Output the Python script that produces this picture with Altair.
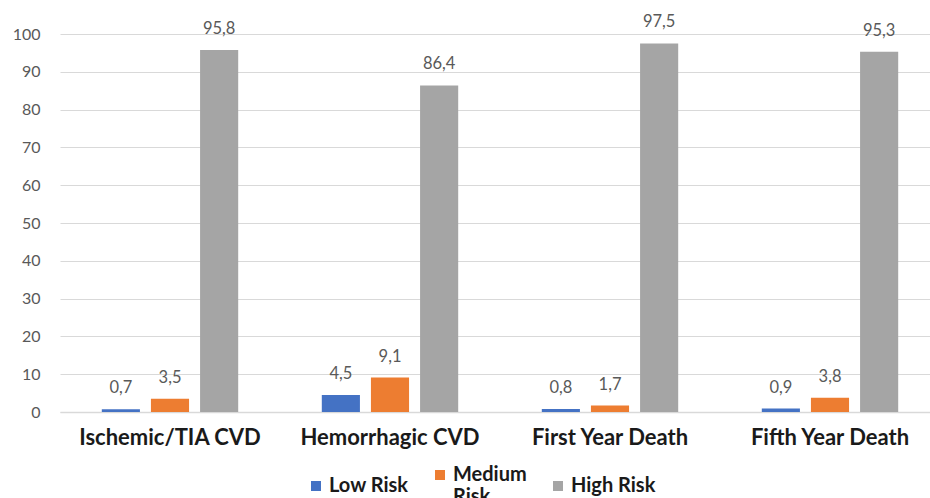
import altair as alt
import pandas as pd

# Risk distribution per outcome (percent)
categories = ["Ischemic/TIA CVD", "Hemorrhagic CVD", "First Year Death", "Fifth Year Death"]
series = ["Low Risk", "Medium Risk", "High Risk"]
low_risk = [0.7, 4.5, 0.8, 0.9]
medium_risk = [3.5, 9.1, 1.7, 3.8]
high_risk = [95.8, 86.4, 97.5, 95.3]
colors = ["#4472C4", "#ED7D31", "#A5A5A5"]
y_ticks = list(range(0, 101, 10))

rows = []
for i, cat in enumerate(categories):
    for name, vals in zip(series, [low_risk, medium_risk, high_risk]):
        rows.append({"category": cat, "risk": name, "value": vals[i]})
df = pd.DataFrame(rows)

FONT = "Lato"

x_enc = alt.X(
    "category:N",
    sort=categories,
    title=None,
    scale=alt.Scale(paddingInner=0.38, paddingOuter=0.19, range=[0, 880]),
    axis=alt.Axis(
        labelAngle=0,
        labelFont=FONT,
        labelFontSize=22,
        labelFontWeight="bold",
        labelColor="#1a1a1a",
        labelPadding=15,
        labelLimit=400,
        ticks=False,
        domainColor="#d9d9d9",
        domainWidth=1.5,
        grid=False,
    ),
)
xoff = alt.XOffset("risk:N", sort=series, scale=alt.Scale(paddingInner=0.224, paddingOuter=0))
y_enc = alt.Y(
    "value:Q",
    title=None,
    scale=alt.Scale(domain=[0, 100], nice=False),
    axis=alt.Axis(
        values=y_ticks,
        tickCount=len(y_ticks),
        labelFont=FONT,
        labelFontSize=16,
        labelColor="#595959",
        labelPadding=20,
        labelOverlap=False,
        ticks=False,
        domain=False,
        gridColor="#d9d9d9",
        gridWidth=1.2,
    ),
)
color_enc = alt.Color(
    "risk:N",
    sort=series,
    scale=alt.Scale(domain=series, range=colors),
    legend=alt.Legend(
        title=None,
        orient="none",
        direction="horizontal",
        legendX=246,
        legendY=431,
        symbolType="square",
        symbolSize=100,
        symbolStrokeWidth=0,
        labelFont=FONT,
        labelFontSize=20,
        labelFontWeight="bold",
        labelColor="#1a1a1a",
        labelOffset=3,
        columnPadding=21,
        labelLimit=200,
        labelExpr="datum.label == 'Medium Risk' ? ['Medium', 'Risk'] : datum.label",
    ),
)

bars = alt.Chart(df).mark_bar().encode(x=x_enc, xOffset=xoff, y=y_enc, color=color_enc)

labels = (
    alt.Chart(df)
    .transform_calculate(txt="replace(format(datum.value, '.1f'), '.', ',')")
    .mark_text(baseline="bottom", dy=-13, font=FONT, fontSize=16.5, color="#595959")
    .encode(x=x_enc, xOffset=xoff, y=y_enc, text="txt:N")
)

chart = (
    alt.layer(bars, labels)
    .properties(
        width=870,
        height=378,
        padding={"left": 60, "top": 34, "right": 0, "bottom": 86},
        autosize=alt.AutoSizeParams(type="none"),
        background="white",
    )
    .configure_view(stroke=None)
)

chart.save("out.html", embed_options={"renderer": "svg", "actions": False})
